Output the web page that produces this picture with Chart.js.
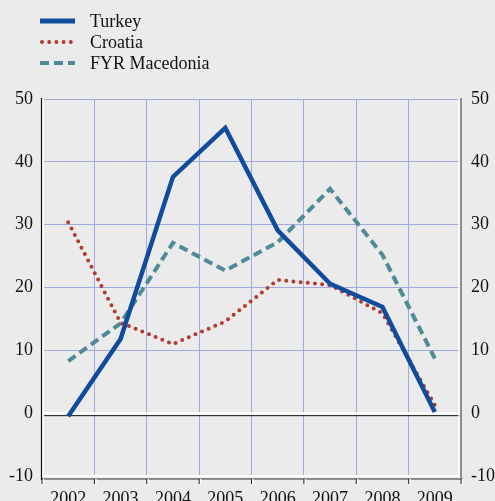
<!DOCTYPE html>
<html>
<head>
<meta charset="utf-8">
<script src="https://cdn.jsdelivr.net/npm/chart.js@4/dist/chart.umd.min.js"></script>
<style>
  html, body { margin: 0; padding: 0; background: #ebebeb; }
  #wrap { width: 495px; height: 501px; position: relative; }
</style>
</head>
<body>
<div id="wrap"><canvas id="c" width="495" height="501"></canvas></div>
<script>
const years = ['2002', '2003', '2004', '2005', '2006', '2007', '2008', '2009'];
const turkey = [-0.5, 11.8, 37.6, 45.4, 29.1, 20.6, 16.9, 0.2];
const croatia = [30.4, 14.4, 11.0, 14.6, 21.2, 20.4, 15.9, 1.3];
const macedonia = [8.3, 14.3, 27.1, 22.7, 27.2, 35.7, 25.2, 8.7];
const yTicks = [-10, 0, 10, 20, 30, 40, 50];

const FONT = "'Liberation Serif', 'Times New Roman', serif";
const GRID = '#a0aae0';
const TXT = '#111111';

const frame = {
  id: 'frame',
  beforeDraw(chart) {
    const ctx = chart.ctx;
    ctx.save();
    ctx.fillStyle = '#ebebeb';
    ctx.fillRect(0, 0, chart.width, chart.height);
    ctx.restore();
  },
  beforeDatasetsDraw(chart) {
    const ctx = chart.ctx, a = chart.chartArea, y = chart.scales.y, x = chart.scales.x;
    ctx.save();
    const y0 = y.getPixelForValue(0);
    // zero line
    ctx.strokeStyle = '#ffffff'; ctx.lineWidth = 2.5;
    ctx.beginPath(); ctx.moveTo(a.left, y0); ctx.lineTo(a.right, y0); ctx.stroke();
    ctx.strokeStyle = '#111'; ctx.lineWidth = 1;
    ctx.beginPath(); ctx.moveTo(a.left, y0 + 2.5); ctx.lineTo(a.right, y0 + 2.5); ctx.stroke();
    // bottom frame
    ctx.strokeStyle = '#ffffff'; ctx.lineWidth = 2;
    ctx.beginPath(); ctx.moveTo(a.left, a.bottom); ctx.lineTo(a.right, a.bottom); ctx.stroke();
    ctx.strokeStyle = '#8c8c8c'; ctx.lineWidth = 2;
    ctx.beginPath(); ctx.moveTo(a.left, a.bottom + 3); ctx.lineTo(a.right + 2, a.bottom + 3); ctx.stroke();
    // right frame
    ctx.strokeStyle = '#ffffff'; ctx.lineWidth = 1.5;
    ctx.beginPath(); ctx.moveTo(a.right - 2, a.top); ctx.lineTo(a.right - 2, a.bottom); ctx.stroke();
    ctx.strokeStyle = '#8c8c8c'; ctx.lineWidth = 2;
    ctx.beginPath(); ctx.moveTo(a.right, a.top - 1); ctx.lineTo(a.right, a.bottom + 4); ctx.stroke();
    // left frame
    ctx.strokeStyle = '#ffffff'; ctx.lineWidth = 2;
    ctx.beginPath(); ctx.moveTo(a.left + 1, a.top); ctx.lineTo(a.left + 1, a.bottom); ctx.stroke();
    ctx.strokeStyle = '#111'; ctx.lineWidth = 1.2;
    ctx.beginPath(); ctx.moveTo(a.left - 0.5, a.top - 1); ctx.lineTo(a.left - 0.5, a.bottom + 4); ctx.stroke();
    // x tick marks at category boundaries
    const n = years.length;
    const step = x.getPixelForValue(1) - x.getPixelForValue(0);
    for (let i = 0; i <= n; i++) {
      const px = i < n ? (x.getPixelForValue(i) - step / 2) : a.right;
      ctx.strokeStyle = '#ffffff'; ctx.lineWidth = 1.5;
      ctx.beginPath(); ctx.moveTo(px + 1.5, a.bottom + 3); ctx.lineTo(px + 1.5, a.bottom + 8); ctx.stroke();
      ctx.strokeStyle = '#222'; ctx.lineWidth = 1;
      ctx.beginPath(); ctx.moveTo(px, a.bottom + 3); ctx.lineTo(px, a.bottom + 8); ctx.stroke();
    }
    ctx.restore();
  },
  afterDraw(chart) {
    const ctx = chart.ctx;
    ctx.save();
    const rows = [21, 42, 63];
    chart.data.datasets.forEach((ds, i) => {
      const yy = rows[i];
      ctx.strokeStyle = ds.borderColor;
      ctx.lineWidth = i === 0 ? 5 : ds.borderWidth;
      ctx.lineCap = ds.borderCapStyle || 'butt';
      ctx.setLineDash(ds.borderDash || []);
      ctx.beginPath(); ctx.moveTo(i === 1 ? 42 : 40, yy); ctx.lineTo(75, yy); ctx.stroke();
      ctx.setLineDash([]);
      ctx.fillStyle = TXT;
      ctx.font = '18px ' + FONT;
      ctx.textBaseline = 'middle';
      ctx.textAlign = 'left';
      ctx.fillText(ds.label, 90, yy + 1);
    });
    ctx.restore();
  }
};

new Chart(document.getElementById('c'), {
  type: 'line',
  data: {
    labels: years,
    datasets: [
      { label: 'Turkey', data: turkey, borderColor: '#0f4c9e', borderWidth: 4.5, borderCapStyle: 'butt', borderJoinStyle: 'miter', pointRadius: 0, tension: 0, fill: false },
      { label: 'Croatia', data: croatia, borderColor: '#b23a2e', borderWidth: 4, borderDash: [0, 7.2], borderCapStyle: 'round', pointRadius: 0, tension: 0, fill: false },
      { label: 'FYR Macedonia', data: macedonia, borderColor: '#4f8a98', borderWidth: 4, borderDash: [9, 5], borderCapStyle: 'butt', pointRadius: 0, tension: 0, fill: false }
    ]
  },
  options: {
    responsive: false,
    animation: false,
    devicePixelRatio: 1,
    layout: { padding: { top: 99, left: 0, right: 0, bottom: 0 } },
    plugins: { legend: { display: false }, tooltip: { enabled: false } },
    scales: {
      x: {
        type: 'category',
        offset: true,
        grid: { offset: true, color: GRID, lineWidth: 1, drawTicks: false },
        border: { display: false },
        ticks: { color: TXT, font: { family: FONT, size: 18 }, padding: 12, maxRotation: 0, autoSkip: false },
        afterFit(s) { s.height = 25; }
      },
      y: {
        position: 'left',
        min: -10, max: 50,
        afterBuildTicks(s) { s.ticks = yTicks.map(v => ({ value: v })); },
        grid: { color: GRID, lineWidth: 1, drawTicks: false },
        border: { display: false },
        ticks: { color: TXT, font: { family: FONT, size: 18 }, padding: 9 },
        afterFit(s) { s.width = 42; }
      },
      y2: {
        position: 'right',
        min: -10, max: 50,
        afterBuildTicks(s) { s.ticks = yTicks.map(v => ({ value: v })); },
        grid: { display: false, drawTicks: false },
        border: { display: false },
        ticks: { color: TXT, font: { family: FONT, size: 18 }, padding: 10 },
        afterFit(s) { s.width = 34; }
      }
    }
  },
  plugins: [frame]
});
</script>
</body>
</html>
